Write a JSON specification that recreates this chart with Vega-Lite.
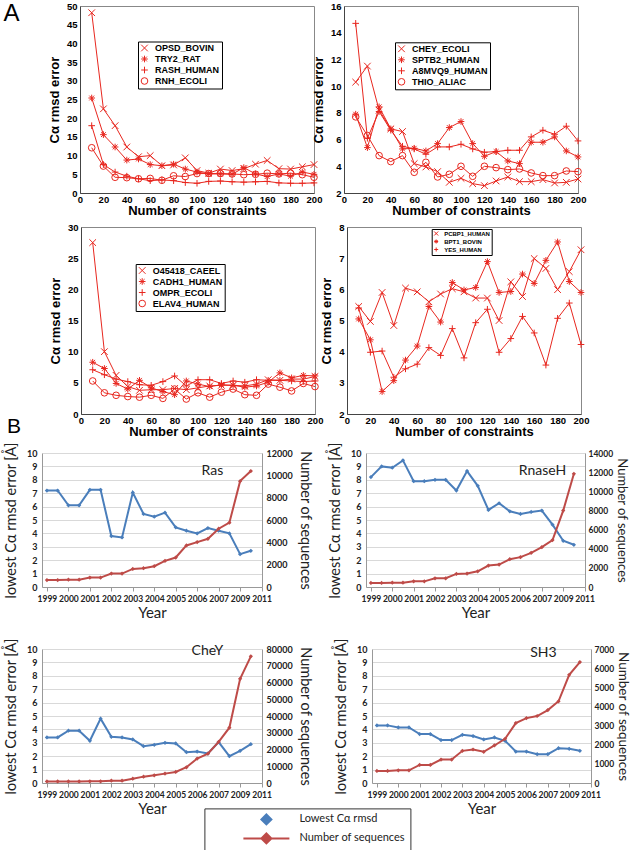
{
"$schema": "https://vega.github.io/schema/vega-lite/v6.json",
"background": "white",
"padding": {"left": 3, "top": 0, "right": 0, "bottom": 0},
"config": {"font": "Liberation Sans", "view": {"stroke": null}},
"datasets": {
"constraints": [
{"n":10,"OPSD_BOVIN":48.2,"TRY2_RAT":25.4,"RASH_HUMAN":18,"RNH_ECOLI":12.1,"CHEY_ECOLI":10.3,"SPTB2_HUMAN":7.9,"A8MVQ9_HUMAN":14.7,"THIO_ALIAC":7.7,"O45418_CAEEL":27.5,"CADH1_HUMAN":8.3,"OMPR_ECOLI":7.1,"ELAV4_HUMAN":5.3,"PCBP1_HUMAN":5.45,"BPT1_BOVIN":5.05,"YES_HUMAN":5.4},
{"n":20,"OPSD_BOVIN":22.5,"TRY2_RAT":15.6,"RASH_HUMAN":7.6,"RNH_ECOLI":7.2,"CHEY_ECOLI":11.5,"SPTB2_HUMAN":5.4,"A8MVQ9_HUMAN":6.1,"THIO_ALIAC":6.3,"O45418_CAEEL":10,"CADH1_HUMAN":7.3,"OMPR_ECOLI":6.3,"ELAV4_HUMAN":3.4,"PCBP1_HUMAN":4.97,"BPT1_BOVIN":4.38,"YES_HUMAN":3.98},
{"n":30,"OPSD_BOVIN":18,"TRY2_RAT":12.3,"RASH_HUMAN":5.6,"RNH_ECOLI":4.2,"CHEY_ECOLI":8.2,"SPTB2_HUMAN":8.45,"A8MVQ9_HUMAN":8.1,"THIO_ALIAC":4.8,"O45418_CAEEL":6.2,"CADH1_HUMAN":4.9,"OMPR_ECOLI":5.6,"ELAV4_HUMAN":3.0,"PCBP1_HUMAN":5.9,"BPT1_BOVIN":2.72,"YES_HUMAN":4.02},
{"n":40,"OPSD_BOVIN":12.3,"TRY2_RAT":8.8,"RASH_HUMAN":4.5,"RNH_ECOLI":4.1,"CHEY_ECOLI":6.8,"SPTB2_HUMAN":6.8,"A8MVQ9_HUMAN":6.7,"THIO_ALIAC":4.35,"O45418_CAEEL":4.4,"CADH1_HUMAN":4.0,"OMPR_ECOLI":5.2,"ELAV4_HUMAN":2.8,"PCBP1_HUMAN":4.84,"BPT1_BOVIN":3.07,"YES_HUMAN":3.18},
{"n":50,"OPSD_BOVIN":9.7,"TRY2_RAT":9.1,"RASH_HUMAN":3.8,"RNH_ECOLI":3.8,"CHEY_ECOLI":6.6,"SPTB2_HUMAN":5.3,"A8MVQ9_HUMAN":5.5,"THIO_ALIAC":4.8,"O45418_CAEEL":3.8,"CADH1_HUMAN":5.4,"OMPR_ECOLI":4.7,"ELAV4_HUMAN":2.7,"PCBP1_HUMAN":6.04,"BPT1_BOVIN":3.73,"YES_HUMAN":3.45},
{"n":60,"OPSD_BOVIN":10,"TRY2_RAT":7.6,"RASH_HUMAN":3.3,"RNH_ECOLI":3.9,"CHEY_ECOLI":4.2,"SPTB2_HUMAN":5.35,"A8MVQ9_HUMAN":5.3,"THIO_ALIAC":3.55,"O45418_CAEEL":3.9,"CADH1_HUMAN":4.2,"OMPR_ECOLI":4.6,"ELAV4_HUMAN":3.0,"PCBP1_HUMAN":5.92,"BPT1_BOVIN":4.18,"YES_HUMAN":3.6},
{"n":70,"OPSD_BOVIN":7.3,"TRY2_RAT":7.3,"RASH_HUMAN":3.5,"RNH_ECOLI":3.4,"CHEY_ECOLI":3.95,"SPTB2_HUMAN":5.15,"A8MVQ9_HUMAN":4.9,"THIO_ALIAC":4.3,"O45418_CAEEL":3.9,"CADH1_HUMAN":3.6,"OMPR_ECOLI":5.2,"ELAV4_HUMAN":2.5,"PCBP1_HUMAN":5.6,"BPT1_BOVIN":5.45,"YES_HUMAN":4.13},
{"n":80,"OPSD_BOVIN":7.5,"TRY2_RAT":7.7,"RASH_HUMAN":3.3,"RNH_ECOLI":4.6,"CHEY_ECOLI":3.6,"SPTB2_HUMAN":5.7,"A8MVQ9_HUMAN":5.45,"THIO_ALIAC":3.2,"O45418_CAEEL":4.1,"CADH1_HUMAN":3.1,"OMPR_ECOLI":6.1,"ELAV4_HUMAN":4.0,"PCBP1_HUMAN":5.85,"BPT1_BOVIN":4.95,"YES_HUMAN":3.88},
{"n":90,"OPSD_BOVIN":9.4,"TRY2_RAT":6.4,"RASH_HUMAN":2.8,"RNH_ECOLI":4.4,"CHEY_ECOLI":2.8,"SPTB2_HUMAN":6.9,"A8MVQ9_HUMAN":5.45,"THIO_ALIAC":3.4,"O45418_CAEEL":3.9,"CADH1_HUMAN":5.3,"OMPR_ECOLI":4.5,"ELAV4_HUMAN":2.4,"PCBP1_HUMAN":6.02,"BPT1_BOVIN":6.22,"YES_HUMAN":4.74},
{"n":100,"OPSD_BOVIN":6,"TRY2_RAT":5.6,"RASH_HUMAN":2.6,"RNH_ECOLI":5.2,"CHEY_ECOLI":3.1,"SPTB2_HUMAN":7.35,"A8MVQ9_HUMAN":5.65,"THIO_ALIAC":4.0,"O45418_CAEEL":4.2,"CADH1_HUMAN":4.8,"OMPR_ECOLI":5.5,"ELAV4_HUMAN":3.4,"PCBP1_HUMAN":5.92,"BPT1_BOVIN":5.98,"YES_HUMAN":3.8},
{"n":110,"OPSD_BOVIN":5.3,"TRY2_RAT":5.1,"RASH_HUMAN":3.1,"RNH_ECOLI":5.2,"CHEY_ECOLI":2.7,"SPTB2_HUMAN":5.7,"A8MVQ9_HUMAN":5.3,"THIO_ALIAC":3.25,"O45418_CAEEL":4.5,"CADH1_HUMAN":4.4,"OMPR_ECOLI":5.5,"ELAV4_HUMAN":2.7,"PCBP1_HUMAN":5.72,"BPT1_BOVIN":6.06,"YES_HUMAN":4.93},
{"n":120,"OPSD_BOVIN":6.4,"TRY2_RAT":5.1,"RASH_HUMAN":3.2,"RNH_ECOLI":5.2,"CHEY_ECOLI":2.55,"SPTB2_HUMAN":4.75,"A8MVQ9_HUMAN":5.05,"THIO_ALIAC":4.0,"O45418_CAEEL":4.6,"CADH1_HUMAN":4.7,"OMPR_ECOLI":4.9,"ELAV4_HUMAN":3.5,"PCBP1_HUMAN":5.72,"BPT1_BOVIN":6.89,"YES_HUMAN":5.36},
{"n":130,"OPSD_BOVIN":6,"TRY2_RAT":5,"RASH_HUMAN":3,"RNH_ECOLI":5.1,"CHEY_ECOLI":2.9,"SPTB2_HUMAN":5.1,"A8MVQ9_HUMAN":5.1,"THIO_ALIAC":3.9,"O45418_CAEEL":4.6,"CADH1_HUMAN":4.6,"OMPR_ECOLI":5.3,"ELAV4_HUMAN":4.0,"PCBP1_HUMAN":5.0,"BPT1_BOVIN":5.9,"YES_HUMAN":3.98},
{"n":140,"OPSD_BOVIN":6.5,"TRY2_RAT":6.8,"RASH_HUMAN":2.9,"RNH_ECOLI":4.9,"CHEY_ECOLI":3.2,"SPTB2_HUMAN":4.4,"A8MVQ9_HUMAN":5.2,"THIO_ALIAC":3.75,"O45418_CAEEL":4.5,"CADH1_HUMAN":4.3,"OMPR_ECOLI":5.1,"ELAV4_HUMAN":3.1,"PCBP1_HUMAN":6.24,"BPT1_BOVIN":5.93,"YES_HUMAN":4.42},
{"n":150,"OPSD_BOVIN":7.7,"TRY2_RAT":5.1,"RASH_HUMAN":3,"RNH_ECOLI":5,"CHEY_ECOLI":2.85,"SPTB2_HUMAN":4.2,"A8MVQ9_HUMAN":5.2,"THIO_ALIAC":3.8,"O45418_CAEEL":4.8,"CADH1_HUMAN":4.5,"OMPR_ECOLI":5.5,"ELAV4_HUMAN":3.0,"PCBP1_HUMAN":5.77,"BPT1_BOVIN":6.49,"YES_HUMAN":5.13},
{"n":160,"OPSD_BOVIN":8.7,"TRY2_RAT":4.4,"RASH_HUMAN":3.1,"RNH_ECOLI":5.3,"CHEY_ECOLI":2.85,"SPTB2_HUMAN":5.8,"A8MVQ9_HUMAN":6.2,"THIO_ALIAC":3.5,"O45418_CAEEL":5.5,"CADH1_HUMAN":5.1,"OMPR_ECOLI":5.4,"ELAV4_HUMAN":4.8,"PCBP1_HUMAN":6.99,"BPT1_BOVIN":6.19,"YES_HUMAN":4.6},
{"n":170,"OPSD_BOVIN":6.5,"TRY2_RAT":5.1,"RASH_HUMAN":2.7,"RNH_ECOLI":5.1,"CHEY_ECOLI":3.0,"SPTB2_HUMAN":5.8,"A8MVQ9_HUMAN":6.7,"THIO_ALIAC":3.3,"O45418_CAEEL":5.4,"CADH1_HUMAN":6.6,"OMPR_ECOLI":5.4,"ELAV4_HUMAN":4.3,"PCBP1_HUMAN":6.67,"BPT1_BOVIN":6.93,"YES_HUMAN":3.57},
{"n":180,"OPSD_BOVIN":6.4,"TRY2_RAT":4.5,"RASH_HUMAN":2.6,"RNH_ECOLI":5.3,"CHEY_ECOLI":2.75,"SPTB2_HUMAN":6.2,"A8MVQ9_HUMAN":6.4,"THIO_ALIAC":3.3,"O45418_CAEEL":5.6,"CADH1_HUMAN":5.8,"OMPR_ECOLI":5.3,"ELAV4_HUMAN":3.7,"PCBP1_HUMAN":5.99,"BPT1_BOVIN":7.52,"YES_HUMAN":5.07},
{"n":190,"OPSD_BOVIN":7,"TRY2_RAT":5.6,"RASH_HUMAN":2.6,"RNH_ECOLI":4.9,"CHEY_ECOLI":2.8,"SPTB2_HUMAN":5.15,"A8MVQ9_HUMAN":7.0,"THIO_ALIAC":3.65,"O45418_CAEEL":5.6,"CADH1_HUMAN":6.2,"OMPR_ECOLI":5.2,"ELAV4_HUMAN":4.9,"PCBP1_HUMAN":6.57,"BPT1_BOVIN":6.25,"YES_HUMAN":5.56},
{"n":200,"OPSD_BOVIN":7.6,"TRY2_RAT":5.0,"RASH_HUMAN":2.7,"RNH_ECOLI":4.2,"CHEY_ECOLI":3.05,"SPTB2_HUMAN":4.7,"A8MVQ9_HUMAN":5.9,"THIO_ALIAC":3.6,"O45418_CAEEL":6.0,"CADH1_HUMAN":6.1,"OMPR_ECOLI":5.3,"ELAV4_HUMAN":4.4,"PCBP1_HUMAN":7.27,"BPT1_BOVIN":5.9,"YES_HUMAN":4.23}
],
"history": [
{"protein":"Ras","year":1999,"rmsd":7.2,"sequences":620},
{"protein":"Ras","year":1999.5,"rmsd":7.2,"sequences":620},
{"protein":"Ras","year":2000,"rmsd":6.1,"sequences":660},
{"protein":"Ras","year":2000.5,"rmsd":6.1,"sequences":660},
{"protein":"Ras","year":2001,"rmsd":7.25,"sequences":840},
{"protein":"Ras","year":2001.5,"rmsd":7.25,"sequences":840},
{"protein":"Ras","year":2002,"rmsd":3.8,"sequences":1200},
{"protein":"Ras","year":2002.5,"rmsd":3.7,"sequences":1200},
{"protein":"Ras","year":2003,"rmsd":7.05,"sequences":1620},
{"protein":"Ras","year":2003.5,"rmsd":5.45,"sequences":1680},
{"protein":"Ras","year":2004,"rmsd":5.25,"sequences":1860},
{"protein":"Ras","year":2004.5,"rmsd":5.55,"sequences":2340},
{"protein":"Ras","year":2005,"rmsd":4.45,"sequences":2640},
{"protein":"Ras","year":2005.5,"rmsd":4.2,"sequences":3720},
{"protein":"Ras","year":2006,"rmsd":4.0,"sequences":4020},
{"protein":"Ras","year":2006.5,"rmsd":4.4,"sequences":4320},
{"protein":"Ras","year":2007,"rmsd":4.2,"sequences":5220},
{"protein":"Ras","year":2007.5,"rmsd":4.0,"sequences":5760},
{"protein":"Ras","year":2008,"rmsd":2.45,"sequences":9480},
{"protein":"Ras","year":2008.5,"rmsd":2.7,"sequences":10380},
{"protein":"RnaseH","year":1999,"rmsd":8.2,"sequences":420},
{"protein":"RnaseH","year":1999.5,"rmsd":9.0,"sequences":420},
{"protein":"RnaseH","year":2000,"rmsd":8.9,"sequences":450},
{"protein":"RnaseH","year":2000.5,"rmsd":9.45,"sequences":450},
{"protein":"RnaseH","year":2001,"rmsd":7.9,"sequences":590},
{"protein":"RnaseH","year":2001.5,"rmsd":7.9,"sequences":590},
{"protein":"RnaseH","year":2002,"rmsd":8.0,"sequences":910},
{"protein":"RnaseH","year":2002.5,"rmsd":8.0,"sequences":910},
{"protein":"RnaseH","year":2003,"rmsd":7.2,"sequences":1370},
{"protein":"RnaseH","year":2003.5,"rmsd":8.65,"sequences":1400},
{"protein":"RnaseH","year":2004,"rmsd":7.55,"sequences":1640},
{"protein":"RnaseH","year":2004.5,"rmsd":5.75,"sequences":2240},
{"protein":"RnaseH","year":2005,"rmsd":6.25,"sequences":2340},
{"protein":"RnaseH","year":2005.5,"rmsd":5.65,"sequences":2910},
{"protein":"RnaseH","year":2006,"rmsd":5.45,"sequences":3120},
{"protein":"RnaseH","year":2006.5,"rmsd":5.6,"sequences":3570},
{"protein":"RnaseH","year":2007,"rmsd":5.7,"sequences":4160},
{"protein":"RnaseH","year":2007.5,"rmsd":4.65,"sequences":4900},
{"protein":"RnaseH","year":2008,"rmsd":3.45,"sequences":7980},
{"protein":"RnaseH","year":2008.5,"rmsd":3.15,"sequences":11830},
{"protein":"CheY","year":1999,"rmsd":3.4,"sequences":900},
{"protein":"CheY","year":1999.5,"rmsd":3.4,"sequences":900},
{"protein":"CheY","year":2000,"rmsd":3.9,"sequences":900},
{"protein":"CheY","year":2000.5,"rmsd":3.9,"sequences":900},
{"protein":"CheY","year":2001,"rmsd":3.15,"sequences":1000},
{"protein":"CheY","year":2001.5,"rmsd":4.8,"sequences":1000},
{"protein":"CheY","year":2002,"rmsd":3.45,"sequences":1400},
{"protein":"CheY","year":2002.5,"rmsd":3.4,"sequences":1400},
{"protein":"CheY","year":2003,"rmsd":3.25,"sequences":2600},
{"protein":"CheY","year":2003.5,"rmsd":2.75,"sequences":3800},
{"protein":"CheY","year":2004,"rmsd":2.85,"sequences":4600},
{"protein":"CheY","year":2004.5,"rmsd":3.0,"sequences":5600},
{"protein":"CheY","year":2005,"rmsd":2.95,"sequences":6600},
{"protein":"CheY","year":2005.5,"rmsd":2.3,"sequences":9400},
{"protein":"CheY","year":2006,"rmsd":2.35,"sequences":14600},
{"protein":"CheY","year":2006.5,"rmsd":2.2,"sequences":17500},
{"protein":"CheY","year":2007,"rmsd":3.05,"sequences":24500},
{"protein":"CheY","year":2007.5,"rmsd":2.0,"sequences":33000},
{"protein":"CheY","year":2008,"rmsd":2.4,"sequences":62200},
{"protein":"CheY","year":2008.5,"rmsd":2.9,"sequences":75600},
{"protein":"SH3","year":1999,"rmsd":4.3,"sequences":630},
{"protein":"SH3","year":1999.5,"rmsd":4.3,"sequences":630},
{"protein":"SH3","year":2000,"rmsd":4.15,"sequences":665},
{"protein":"SH3","year":2000.5,"rmsd":4.15,"sequences":665},
{"protein":"SH3","year":2001,"rmsd":3.65,"sequences":945},
{"protein":"SH3","year":2001.5,"rmsd":3.65,"sequences":945},
{"protein":"SH3","year":2002,"rmsd":3.2,"sequences":1225},
{"protein":"SH3","year":2002.5,"rmsd":3.2,"sequences":1225},
{"protein":"SH3","year":2003,"rmsd":3.6,"sequences":1680},
{"protein":"SH3","year":2003.5,"rmsd":3.5,"sequences":1750},
{"protein":"SH3","year":2004,"rmsd":3.25,"sequences":1630},
{"protein":"SH3","year":2004.5,"rmsd":3.4,"sequences":1960},
{"protein":"SH3","year":2005,"rmsd":3.15,"sequences":2310},
{"protein":"SH3","year":2005.5,"rmsd":2.35,"sequences":3130},
{"protein":"SH3","year":2006,"rmsd":2.35,"sequences":3390},
{"protein":"SH3","year":2006.5,"rmsd":2.15,"sequences":3500},
{"protein":"SH3","year":2007,"rmsd":2.15,"sequences":3810},
{"protein":"SH3","year":2007.5,"rmsd":2.6,"sequences":4270},
{"protein":"SH3","year":2008,"rmsd":2.55,"sequences":5650},
{"protein":"SH3","year":2008.5,"rmsd":2.4,"sequences":6320}
]
},
"spacing": -24,
"resolve": {"scale": {"shape": "independent"}, "legend": {"shape": "independent"}},
"vconcat": [
{
"title": {"text": "A", "anchor": "start", "frame": "bounds", "orient": "top", "font": "Liberation Sans", "fontSize": 24, "fontWeight": "normal", "baseline": "top", "offset": 0, "dx": -38.6, "dy": 25, "color": "black"},
"spacing": 3,
"resolve": {"scale": {"shape": "independent"}, "legend": {"shape": "independent"}},
"vconcat": [
{
"bounds": "flush", "spacing": 30,
"resolve": {"scale": {"shape": "independent"}, "legend": {"shape": "independent"}},
"hconcat": [
{"width": 7.8, "height": 1, "view": {"stroke": null}, "data": {"values": [{}]}, "mark": {"type": "point", "opacity": 0}},
{
"width": 234, "height": 187, "view": {"stroke": "#888888"},
"data": {"name": "constraints"},
"transform": [{"fold": ["OPSD_BOVIN","TRY2_RAT","RASH_HUMAN","RNH_ECOLI"], "as": ["protein","rmsd"]}],
"encoding": {
"x": {"field": "n", "type": "quantitative", "scale": {"domain": [0,200], "nice": false}, "axis": {"title": "Number of constraints", "values": [0,20,40,60,80,100,120,140,160,180,200], "ticks": false, "labelPadding": 1, "labelFont": "Liberation Sans", "labelFontWeight": "bold", "labelFontSize": 9.5, "labelFlush": false, "labelOverlap": false, "titleFont": "Liberation Sans", "titleFontWeight": "bold", "titleFontSize": 13, "titlePadding": 1, "domainColor": "#444", "grid": false}},
"y": {"field": "rmsd", "type": "quantitative", "scale": {"domain": [0,50], "nice": false}, "axis": {"title": "Cα rmsd error", "values": [0,5,10,15,20,25,30,35,40,45,50], "ticks": false, "labelOverlap": false, "labelPadding": 3, "labelFont": "Liberation Sans", "labelFontWeight": "bold", "labelFontSize": 9.5, "titleFont": "Liberation Sans", "titleFontWeight": "bold", "titleFontSize": 13, "titlePadding": 5, "domainColor": "#444", "grid": false}}
},
"layer": [
{"mark": {"type": "line", "color": "#e8271f", "strokeWidth": 1}, "encoding": {"detail": {"field": "protein", "type": "nominal"}}},
{"mark": {"type": "point", "color": "#e8271f", "filled": false, "size": 44, "strokeWidth": 1, "opacity": 1}, "encoding": {"shape": {"field": "protein", "type": "nominal", "scale": {"domain": ["OPSD_BOVIN","TRY2_RAT","RASH_HUMAN","RNH_ECOLI"], "range": ["M-1,-1L1,1M-1,1L1,-1", "M-1,0L1,0M0,-1L0,1M-0.72,-0.72L0.72,0.72M-0.72,0.72L0.72,-0.72", "M-1,0L1,0M0,-1L0,1", "circle"]}, "legend": {"title": null, "orient": "none", "legendX": 58, "legendY": 35.5, "strokeColor": "#000", "fillColor": "#fff", "padding": 2, "labelFont": "Liberation Sans", "labelFontWeight": "bold", "labelFontSize": 9, "labelOffset": 6, "rowPadding": 0, "symbolSize": 44, "symbolStrokeWidth": 1, "symbolStrokeColor": "#e8271f"}}}}
]
},
{
"width": 234, "height": 187, "view": {"stroke": "#888888"},
"data": {"name": "constraints"},
"transform": [{"fold": ["CHEY_ECOLI","SPTB2_HUMAN","A8MVQ9_HUMAN","THIO_ALIAC"], "as": ["protein","rmsd"]}],
"encoding": {
"x": {"field": "n", "type": "quantitative", "scale": {"domain": [0,200], "nice": false}, "axis": {"title": "Number of constraints", "values": [0,20,40,60,80,100,120,140,160,180,200], "ticks": false, "labelPadding": 1, "labelFont": "Liberation Sans", "labelFontWeight": "bold", "labelFontSize": 9.5, "labelFlush": false, "labelOverlap": false, "titleFont": "Liberation Sans", "titleFontWeight": "bold", "titleFontSize": 13, "titlePadding": 1, "domainColor": "#444", "grid": false}},
"y": {"field": "rmsd", "type": "quantitative", "scale": {"domain": [2,16], "nice": false, "zero": false}, "axis": {"title": "Cα rmsd error", "values": [2,4,6,8,10,12,14,16], "ticks": false, "labelOverlap": false, "labelPadding": 3, "labelFont": "Liberation Sans", "labelFontWeight": "bold", "labelFontSize": 9.5, "titleFont": "Liberation Sans", "titleFontWeight": "bold", "titleFontSize": 13, "titlePadding": 5, "domainColor": "#444", "grid": false}}
},
"layer": [
{"mark": {"type": "line", "color": "#e8271f", "strokeWidth": 1}, "encoding": {"detail": {"field": "protein", "type": "nominal"}}},
{"mark": {"type": "point", "color": "#e8271f", "filled": false, "size": 44, "strokeWidth": 1, "opacity": 1}, "encoding": {"shape": {"field": "protein", "type": "nominal", "scale": {"domain": ["CHEY_ECOLI","SPTB2_HUMAN","A8MVQ9_HUMAN","THIO_ALIAC"], "range": ["M-1,-1L1,1M-1,1L1,-1", "M-1,0L1,0M0,-1L0,1M-0.72,-0.72L0.72,0.72M-0.72,0.72L0.72,-0.72", "M-1,0L1,0M0,-1L0,1", "circle"]}, "legend": {"title": null, "orient": "none", "legendX": 51, "legendY": 36.3, "strokeColor": "#000", "fillColor": "#fff", "padding": 2, "labelFont": "Liberation Sans", "labelFontWeight": "bold", "labelFontSize": 9, "labelOffset": 6, "rowPadding": 0, "symbolSize": 44, "symbolStrokeWidth": 1, "symbolStrokeColor": "#e8271f"}}}}
]
}
]
},
{
"bounds": "flush", "spacing": 32,
"resolve": {"scale": {"shape": "independent"}, "legend": {"shape": "independent"}},
"hconcat": [
{"width": 6.8, "height": 1, "view": {"stroke": null}, "data": {"values": [{}]}, "mark": {"type": "point", "opacity": 0}},
{
"width": 234, "height": 187, "view": {"stroke": "#888888"},
"data": {"name": "constraints"},
"transform": [{"fold": ["O45418_CAEEL","CADH1_HUMAN","OMPR_ECOLI","ELAV4_HUMAN"], "as": ["protein","rmsd"]}],
"encoding": {
"x": {"field": "n", "type": "quantitative", "scale": {"domain": [0,200], "nice": false}, "axis": {"title": "Number of constraints", "values": [0,20,40,60,80,100,120,140,160,180,200], "ticks": false, "labelPadding": 1, "labelFont": "Liberation Sans", "labelFontWeight": "bold", "labelFontSize": 9.5, "labelFlush": false, "labelOverlap": false, "titleFont": "Liberation Sans", "titleFontWeight": "bold", "titleFontSize": 13, "titlePadding": 1, "domainColor": "#444", "grid": false}},
"y": {"field": "rmsd", "type": "quantitative", "scale": {"domain": [0,30], "nice": false}, "axis": {"title": "Cα rmsd error", "values": [0,5,10,15,20,25,30], "ticks": false, "labelOverlap": false, "labelPadding": 3, "labelFont": "Liberation Sans", "labelFontWeight": "bold", "labelFontSize": 9.5, "titleFont": "Liberation Sans", "titleFontWeight": "bold", "titleFontSize": 13, "titlePadding": 5, "domainColor": "#444", "grid": false}}
},
"layer": [
{"mark": {"type": "line", "color": "#e8271f", "strokeWidth": 1}, "encoding": {"detail": {"field": "protein", "type": "nominal"}}},
{"mark": {"type": "point", "color": "#e8271f", "filled": false, "size": 44, "strokeWidth": 1, "opacity": 1}, "encoding": {"shape": {"field": "protein", "type": "nominal", "scale": {"domain": ["O45418_CAEEL","CADH1_HUMAN","OMPR_ECOLI","ELAV4_HUMAN"], "range": ["M-1,-1L1,1M-1,1L1,-1", "M-1,0L1,0M0,-1L0,1M-0.72,-0.72L0.72,0.72M-0.72,0.72L0.72,-0.72", "M-1,0L1,0M0,-1L0,1", "circle"]}, "legend": {"title": null, "orient": "none", "legendX": 54.7, "legendY": 37, "strokeColor": "#000", "fillColor": "#fff", "padding": 2, "labelFont": "Liberation Sans", "labelFontWeight": "bold", "labelFontSize": 9, "labelOffset": 6, "rowPadding": 0, "symbolSize": 44, "symbolStrokeWidth": 1, "symbolStrokeColor": "#e8271f"}}}}
]
},
{
"width": 234, "height": 187, "view": {"stroke": "#888888"},
"data": {"name": "constraints"},
"transform": [{"fold": ["PCBP1_HUMAN","BPT1_BOVIN","YES_HUMAN"], "as": ["protein","rmsd"]}],
"encoding": {
"x": {"field": "n", "type": "quantitative", "scale": {"domain": [0,200], "nice": false}, "axis": {"title": "Number of constraints", "values": [0,20,40,60,80,100,120,140,160,180,200], "ticks": false, "labelPadding": 1, "labelFont": "Liberation Sans", "labelFontWeight": "bold", "labelFontSize": 9.5, "labelFlush": false, "labelOverlap": false, "titleFont": "Liberation Sans", "titleFontWeight": "bold", "titleFontSize": 13, "titlePadding": 1, "domainColor": "#444", "grid": false}},
"y": {"field": "rmsd", "type": "quantitative", "scale": {"domain": [2,8], "nice": false, "zero": false}, "axis": {"title": "Cα rmsd error", "values": [2,3,4,5,6,7,8], "ticks": false, "labelOverlap": false, "labelPadding": 3, "labelFont": "Liberation Sans", "labelFontWeight": "bold", "labelFontSize": 9.5, "titleFont": "Liberation Sans", "titleFontWeight": "bold", "titleFontSize": 13, "titlePadding": 5, "domainColor": "#444", "grid": false}}
},
"layer": [
{"mark": {"type": "line", "color": "#e8271f", "strokeWidth": 1}, "encoding": {"detail": {"field": "protein", "type": "nominal"}}},
{"mark": {"type": "point", "color": "#e8271f", "filled": false, "size": 44, "strokeWidth": 1, "opacity": 1}, "encoding": {"shape": {"field": "protein", "type": "nominal", "scale": {"domain": ["PCBP1_HUMAN","BPT1_BOVIN","YES_HUMAN"], "range": ["M-1,-1L1,1M-1,1L1,-1", "M-1,0L1,0M0,-1L0,1M-0.72,-0.72L0.72,0.72M-0.72,0.72L0.72,-0.72", "M-1,0L1,0M0,-1L0,1"]}, "legend": {"title": null, "orient": "none", "legendX": 84.7, "legendY": 2, "strokeColor": "#000", "fillColor": "#fff", "padding": 1.5, "labelFont": "Liberation Sans", "labelFontWeight": "bold", "labelFontSize": 6, "labelOffset": 5, "rowPadding": 0, "symbolSize": 16, "symbolStrokeWidth": 1, "symbolStrokeColor": "#e8271f"}}}}
]
}
]
}
]
},
{
"title": {"text": "B", "anchor": "start", "frame": "bounds", "orient": "top", "font": "Liberation Sans", "fontSize": 21, "fontWeight": "normal", "baseline": "top", "offset": 0, "dx": 3.4, "dy": -5, "color": "black"},
"spacing": 16,
"vconcat": [
{
"bounds": "flush", "spacing": 104,
"hconcat": [
{
"title": {"text": "Ras", "anchor": "start", "align": "center", "frame": "group", "orient": "top", "baseline": "top", "offset": 0, "dx": 170.4, "dy": 36, "font": "Lato", "fontSize": 14, "fontWeight": "normal", "color": "#222"},
"width": 220, "height": 134, "view": {"stroke": null},
"data": {"name": "history"},
"transform": [{"filter": {"field": "protein", "equal": "Ras"}}],
"encoding": {"x": {"field": "year", "type": "quantitative", "scale": {"domain": [1998.77, 2009.02], "nice": false, "zero": false}, "axis": {"title": "Year", "values": [1999,2000,2001,2002,2003,2004,2005,2006,2007,2008,2009], "format": "d", "labelExpr": "datum.value == 2008 ? '2009' : (datum.value == 2009 ? '2011' : datum.label)", "labelFont": "Lato", "labelFontWeight": "bold", "labelFontSize": 8.5, "labelColor": "#222", "labelPadding": 3, "labelFlush": false, "labelOverlap": false, "tickSize": 4, "tickColor": "#999", "domainColor": "#999", "grid": false, "titleFont": "Lato", "titleFontSize": 15, "titleFontWeight": "normal", "titleColor": "#222", "titlePadding": 3}}},
"layer": [
{"mark": {"type": "line", "strokeWidth": 2, "point": {"shape": "diamond", "size": 18, "filled": true}}, "encoding": {"y": {"field": "rmsd", "type": "quantitative", "scale": {"domain": [0,10], "nice": false}, "axis": {"title": "lowest Cα rmsd error [Å]", "values": [0,1,2,3,4,5,6,7,8,9,10], "labelOverlap": false, "grid": true, "gridColor": "#d9d9d9", "domainColor": "#999", "ticks": false, "labelPadding": 5, "labelFont": "Lato", "labelFontWeight": "bold", "labelFontSize": 9, "labelColor": "#222", "titleFont": "Lato", "titleFontSize": 14.5, "titleFontWeight": "normal", "titleColor": "#222", "titlePadding": 8}}, "color": {"datum": "Lowest Cα rmsd", "scale": {"domain": ["Lowest Cα rmsd", "Number of sequences"], "range": ["#4a7ebb", "#be4b48"]}, "legend": {"title": null, "orient": "none", "legendX": 162.4, "legendY": 802.4, "strokeColor": "#333", "fillColor": "#fff", "padding": 5, "labelFont": "Lato", "labelFontSize": 11, "labelColor": "#222", "symbolSize": 100, "symbolOffset": 51, "labelOffset": 27, "rowPadding": 1, "encode": {"symbols": {"update": {"shape": {"signal": "datum.value === 'Number of sequences' ? 'M-4.6,0L4.6,0M0,-1L1,0L0,1L-1,0Z' : 'M0,-1L1,0L0,1L-1,0Z'"}, "fill": {"signal": "datum.value === 'Number of sequences' ? '#be4b48' : '#4a7ebb'"}, "stroke": {"signal": "datum.value === 'Number of sequences' ? '#be4b48' : '#4a7ebb'"}, "strokeWidth": {"value": 2}, "opacity": {"value": 1}}}}}}}},
{"mark": {"type": "line", "strokeWidth": 2, "point": {"shape": "diamond", "size": 18, "filled": true}}, "encoding": {"y": {"field": "sequences", "type": "quantitative", "scale": {"domain": [0,12000], "nice": false}, "axis": {"orient": "right", "title": "Number of sequences", "values": [0,2000,4000,6000,8000,10000,12000], "format": "d", "labelOverlap": false, "grid": false, "domainColor": "#999", "ticks": false, "labelPadding": 4, "labelFont": "Lato", "labelFontWeight": "bold", "labelFontSize": 9, "labelColor": "#222", "titleFont": "Lato", "titleFontSize": 14.5, "titleFontWeight": "normal", "titleColor": "#222", "titlePadding": 5}}, "color": {"datum": "Number of sequences"}}}
],
"resolve": {"scale": {"y": "independent"}}
},
{
"title": {"text": "RnaseH", "anchor": "start", "align": "center", "frame": "group", "orient": "top", "baseline": "top", "offset": 0, "dx": 176.4, "dy": 36, "font": "Lato", "fontSize": 14, "fontWeight": "normal", "color": "#222"},
"width": 219, "height": 134, "view": {"stroke": null},
"data": {"name": "history"},
"transform": [{"filter": {"field": "protein", "equal": "RnaseH"}}],
"encoding": {"x": {"field": "year", "type": "quantitative", "scale": {"domain": [1998.77, 2009.02], "nice": false, "zero": false}, "axis": {"title": "Year", "values": [1999,2000,2001,2002,2003,2004,2005,2006,2007,2008,2009], "format": "d", "labelExpr": "datum.value == 2008 ? '2009' : (datum.value == 2009 ? '2011' : datum.label)", "labelFont": "Lato", "labelFontWeight": "bold", "labelFontSize": 8.5, "labelColor": "#222", "labelPadding": 3, "labelFlush": false, "labelOverlap": false, "tickSize": 4, "tickColor": "#999", "domainColor": "#999", "grid": false, "titleFont": "Lato", "titleFontSize": 15, "titleFontWeight": "normal", "titleColor": "#222", "titlePadding": 3}}},
"layer": [
{"mark": {"type": "line", "strokeWidth": 2, "point": {"shape": "diamond", "size": 18, "filled": true}}, "encoding": {"y": {"field": "rmsd", "type": "quantitative", "scale": {"domain": [0,10], "nice": false}, "axis": {"title": "lowest Cα rmsd error [Å]", "values": [0,1,2,3,4,5,6,7,8,9,10], "labelOverlap": false, "grid": true, "gridColor": "#d9d9d9", "domainColor": "#999", "ticks": false, "labelPadding": 5, "labelFont": "Lato", "labelFontWeight": "bold", "labelFontSize": 9, "labelColor": "#222", "titleFont": "Lato", "titleFontSize": 14.5, "titleFontWeight": "normal", "titleColor": "#222", "titlePadding": 8}}, "color": {"datum": "Lowest Cα rmsd"}}},
{"mark": {"type": "line", "strokeWidth": 2, "point": {"shape": "diamond", "size": 18, "filled": true}}, "encoding": {"y": {"field": "sequences", "type": "quantitative", "scale": {"domain": [0,14000], "nice": false}, "axis": {"orient": "right", "title": "Number of sequences", "values": [0,2000,4000,6000,8000,10000,12000,14000], "format": "d", "labelOverlap": false, "grid": false, "domainColor": "#999", "ticks": false, "labelPadding": 3, "labelFont": "Lato", "labelFontWeight": "bold", "labelFontSize": 8.5, "labelColor": "#222", "titleFont": "Lato", "titleFontSize": 13, "titleFontWeight": "normal", "titleColor": "#222", "titlePadding": 2}}, "color": {"datum": "Number of sequences"}}}
],
"resolve": {"scale": {"y": "independent"}}
}
]
},
{
"bounds": "flush", "spacing": 110,
"hconcat": [
{
"title": {"text": "CheY", "anchor": "start", "align": "center", "frame": "group", "orient": "top", "baseline": "top", "offset": 0, "dx": 165.4, "dy": 20, "font": "Lato", "fontSize": 14, "fontWeight": "normal", "color": "#222"},
"width": 220, "height": 134, "view": {"stroke": null},
"data": {"name": "history"},
"transform": [{"filter": {"field": "protein", "equal": "CheY"}}],
"encoding": {"x": {"field": "year", "type": "quantitative", "scale": {"domain": [1998.77, 2009.02], "nice": false, "zero": false}, "axis": {"title": "Year", "values": [1999,2000,2001,2002,2003,2004,2005,2006,2007,2008,2009], "format": "d", "labelExpr": "datum.value == 2008 ? '2009' : (datum.value == 2009 ? '2011' : datum.label)", "labelFont": "Lato", "labelFontWeight": "bold", "labelFontSize": 8.5, "labelColor": "#222", "labelPadding": 3, "labelFlush": false, "labelOverlap": false, "tickSize": 4, "tickColor": "#999", "domainColor": "#999", "grid": false, "titleFont": "Lato", "titleFontSize": 15, "titleFontWeight": "normal", "titleColor": "#222", "titlePadding": 3}}},
"layer": [
{"mark": {"type": "line", "strokeWidth": 2, "point": {"shape": "diamond", "size": 18, "filled": true}}, "encoding": {"y": {"field": "rmsd", "type": "quantitative", "scale": {"domain": [0,10], "nice": false}, "axis": {"title": "lowest Cα rmsd error [Å]", "values": [0,1,2,3,4,5,6,7,8,9,10], "labelOverlap": false, "grid": true, "gridColor": "#d9d9d9", "domainColor": "#999", "ticks": false, "labelPadding": 5, "labelFont": "Lato", "labelFontWeight": "bold", "labelFontSize": 9, "labelColor": "#222", "titleFont": "Lato", "titleFontSize": 14.5, "titleFontWeight": "normal", "titleColor": "#222", "titlePadding": 8}}, "color": {"datum": "Lowest Cα rmsd"}}},
{"mark": {"type": "line", "strokeWidth": 2, "point": {"shape": "diamond", "size": 18, "filled": true}}, "encoding": {"y": {"field": "sequences", "type": "quantitative", "scale": {"domain": [0,80000], "nice": false}, "axis": {"orient": "right", "title": "Number of sequences", "values": [0,10000,20000,30000,40000,50000,60000,70000,80000], "format": "d", "labelOverlap": false, "grid": false, "domainColor": "#999", "ticks": false, "labelPadding": 4, "labelFont": "Lato", "labelFontWeight": "bold", "labelFontSize": 9, "labelColor": "#222", "titleFont": "Lato", "titleFontSize": 14.5, "titleFontWeight": "normal", "titleColor": "#222", "titlePadding": 5}}, "color": {"datum": "Number of sequences"}}}
],
"resolve": {"scale": {"y": "independent"}}
},
{
"title": {"text": "SH3", "anchor": "start", "align": "center", "frame": "group", "orient": "top", "baseline": "top", "offset": 0, "dx": 171.4, "dy": 22, "font": "Lato", "fontSize": 14, "fontWeight": "normal", "color": "#222"},
"width": 219, "height": 134, "view": {"stroke": null},
"data": {"name": "history"},
"transform": [{"filter": {"field": "protein", "equal": "SH3"}}],
"encoding": {"x": {"field": "year", "type": "quantitative", "scale": {"domain": [1998.77, 2009.02], "nice": false, "zero": false}, "axis": {"title": "Year", "values": [1999,2000,2001,2002,2003,2004,2005,2006,2007,2008,2009], "format": "d", "labelExpr": "datum.value == 2008 ? '2009' : (datum.value == 2009 ? '2011' : datum.label)", "labelFont": "Lato", "labelFontWeight": "bold", "labelFontSize": 8.5, "labelColor": "#222", "labelPadding": 3, "labelFlush": false, "labelOverlap": false, "tickSize": 4, "tickColor": "#999", "domainColor": "#999", "grid": false, "titleFont": "Lato", "titleFontSize": 15, "titleFontWeight": "normal", "titleColor": "#222", "titlePadding": 3}}},
"layer": [
{"mark": {"type": "line", "strokeWidth": 2, "point": {"shape": "diamond", "size": 18, "filled": true}}, "encoding": {"y": {"field": "rmsd", "type": "quantitative", "scale": {"domain": [0,10], "nice": false}, "axis": {"title": "lowest Cα rmsd error [Å]", "values": [0,1,2,3,4,5,6,7,8,9,10], "labelOverlap": false, "grid": true, "gridColor": "#d9d9d9", "domainColor": "#999", "ticks": false, "labelPadding": 5, "labelFont": "Lato", "labelFontWeight": "bold", "labelFontSize": 9, "labelColor": "#222", "titleFont": "Lato", "titleFontSize": 14.5, "titleFontWeight": "normal", "titleColor": "#222", "titlePadding": 8}}, "color": {"datum": "Lowest Cα rmsd"}}},
{"mark": {"type": "line", "strokeWidth": 2, "point": {"shape": "diamond", "size": 18, "filled": true}}, "encoding": {"y": {"field": "sequences", "type": "quantitative", "scale": {"domain": [0,7000], "nice": false}, "axis": {"orient": "right", "title": "Number of sequences", "values": [0,1000,2000,3000,4000,5000,6000,7000], "format": "d", "labelOverlap": false, "grid": false, "domainColor": "#999", "ticks": false, "labelPadding": 3, "labelFont": "Lato", "labelFontWeight": "bold", "labelFontSize": 8.5, "labelColor": "#222", "titleFont": "Lato", "titleFontSize": 13.5, "titleFontWeight": "normal", "titleColor": "#222", "titlePadding": 2}}, "color": {"datum": "Number of sequences"}}}
],
"resolve": {"scale": {"y": "independent"}}
}
]
}
]
}
]
}
